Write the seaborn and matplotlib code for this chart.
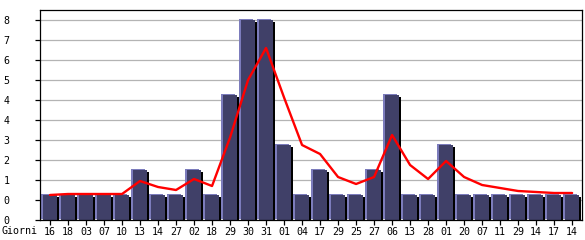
import matplotlib
matplotlib.use("Agg")
import matplotlib.pyplot as plt
import matplotlib.transforms as mtrans
import seaborn as sns
import pandas as pd
import numpy as np

# ---- data ----
days = ["16", "18", "03", "07", "10", "13", "14", "27", "02", "18",
        "29", "30", "31", "01", "04", "17", "29", "25", "27", "06",
        "13", "28", "01", "20", "07", "11", "29", "14", "17", "14"]
counts = [1, 1, 1, 1, 1, 2, 1, 1, 2, 1,
          5, 8, 8, 3, 1, 2, 1, 1, 2, 5,
          1, 1, 3, 1, 1, 1, 1, 1, 1, 1]
trend = [1.0, 1.04, 1.04, 1.04, 1.04, 1.56, 1.32, 1.2, 1.64, 1.36,
         3.3, 5.6, 6.88, 4.9, 3.0, 2.64, 1.72, 1.44, 1.72, 3.4,
         2.2, 1.64, 2.36, 1.72, 1.4, 1.28, 1.16, 1.12, 1.08, 1.08]
y_ticks = [0.0, 0.8, 1.6, 2.4, 3.2, 4.0, 4.8, 5.6, 6.4, 7.2, 8.0]
y_tick_labels = [str(int(v)) for v in y_ticks]
x_caption = "Giorni"

FILL = "#404068"
LIGHT = "#7c7cbc"
SHADOW = "#000000"

df = pd.DataFrame({"pos": [str(i) for i in range(len(days))],
                   "count": counts, "trend": trend})

sns.set_theme(style="white")
plt.rcParams["font.family"] = ["DejaVu Sans Mono", "DejaVu Sans"]

fig = plt.figure(figsize=(5.85, 2.4), dpi=100)
fig.patch.set_facecolor("white")
ax = fig.add_axes([40 / 585, 20 / 240, 542 / 585, 210 / 240])
ax.set_facecolor("white")

W = 0.80
# shadow layer (black, shifted right/down)
sns.barplot(data=df, x="pos", y="count", color=SHADOW, width=W,
            saturation=1, ax=ax, linewidth=0, zorder=2)
sh_patches = list(ax.patches)
sh_off = mtrans.ScaledTranslation(2 / 100, -2 / 100, fig.dpi_scale_trans)
for p in sh_patches:
    p.set_transform(ax.transData + sh_off)
# highlight layer (light, shifted left/up)
sns.barplot(data=df, x="pos", y="count", color=LIGHT, width=W,
            saturation=1, ax=ax, linewidth=0, zorder=3)
hl_patches = [p for p in ax.patches if p not in sh_patches]
hl_off = mtrans.ScaledTranslation(-1.8 / 100, 1.5 / 100, fig.dpi_scale_trans)
for p in hl_patches:
    p.set_transform(ax.transData + hl_off)
# main fill
sns.barplot(data=df, x="pos", y="count", color=FILL, width=W,
            saturation=1, ax=ax, linewidth=0, zorder=4)

# trend line
sns.lineplot(x=np.arange(len(trend)), y=trend, ax=ax, color="#ff0000",
             linewidth=1.7, zorder=6, sort=False)

ax.set_xlim(-0.556, len(days) - 0.5 + 0.05)
ax.set_ylim(0, 8.4)
ax.set_yticks(y_ticks)
ax.set_yticklabels(y_tick_labels)
ax.set_xticks(range(len(days)))
ax.set_xticklabels(days)
ax.set_xlabel("")
ax.set_ylabel("")

ax.grid(axis="y", color="#b4b4b4", linewidth=0.9, zorder=0)
ax.grid(axis="x", visible=False)
ax.set_axisbelow(True)

for s in ax.spines.values():
    s.set_color("black")
    s.set_linewidth(0.9)
    s.set_visible(True)
    s.set_zorder(7)

ax.tick_params(axis="y", which="both", left=True, length=3.6, width=0.9,
               color="black", pad=18.5, labelsize=7.2, labelcolor="black")
ax.tick_params(axis="x", which="both", bottom=True, length=3.6, width=0.9,
               color="black", pad=1.5, labelsize=7.2, labelcolor="black")

fig.text(1 / 585, 1 - 231 / 240, x_caption, fontsize=7.2, va="center",
         ha="left", color="black")

fig.savefig("out.png", dpi=100, facecolor="white")
